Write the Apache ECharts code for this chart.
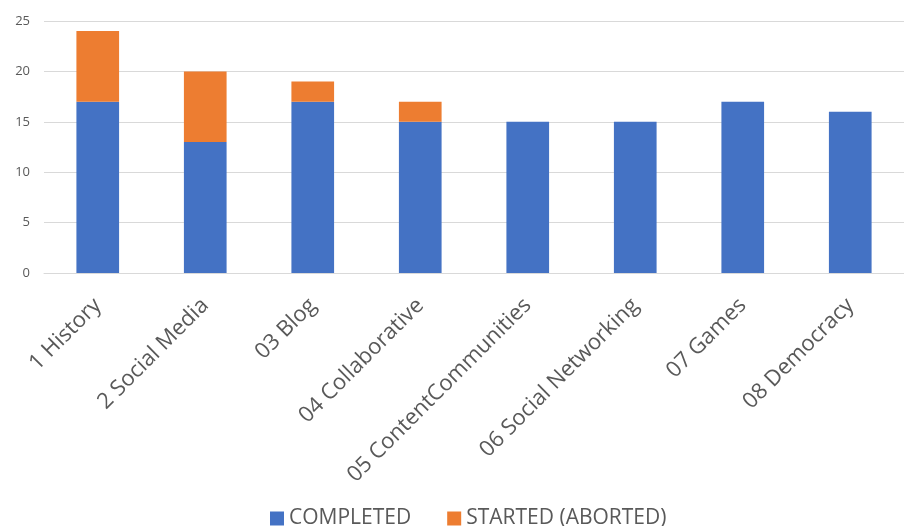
<!DOCTYPE html>
<html><head><meta charset="utf-8">
<script src="https://cdn.jsdelivr.net/npm/echarts@6/dist/echarts.min.js"></script>
<style>html,body{margin:0;padding:0;background:#fff}#c{width:904px;height:526px}</style>
</head><body><div id="c"></div>
<script>
const categories = ['1 History','2 Social Media','03 Blog','04 Collaborative','05 ContentCommunities','06 Social Networking','07 Games','08 Democracy'];
const completed = [17,13,17,15,15,15,17,16];
const started = [7,7,2,2,0,0,0,0];
const seriesNames = ['COMPLETED','STARTED (ABORTED)'];
const chart = echarts.init(document.getElementById('c'));
const font = '"Open Sans", "Liberation Sans", sans-serif';
chart.setOption({
  animation:false,
  textStyle:{fontFamily:font},
  grid:{left:44,right:-6,top:21,bottom:253,containLabel:false},
  legend:{top:503,left:265,itemWidth:14,itemHeight:14,itemGap:36,icon:'rect',
    textStyle:{color:'#595959',fontSize:21,fontFamily:font},data:seriesNames},
  xAxis:{type:'category',data:categories,
    axisLine:{lineStyle:{color:'#d9d9d9'}},axisTick:{show:false},
    axisLabel:{rotate:45,color:'#595959',fontSize:22,margin:29,interval:0,fontFamily:font}},
  yAxis:{type:'value',min:0,max:25,interval:5,
    axisLine:{show:false},axisTick:{show:false},
    axisLabel:{color:'#595959',fontSize:13,margin:14,fontFamily:font},
    splitLine:{lineStyle:{color:'#d9d9d9'}}},
  series:[
    {name:seriesNames[0],type:'bar',stack:'a',data:completed,barWidth:'39.7%',itemStyle:{color:'#4472c4'}},
    {name:seriesNames[1],type:'bar',stack:'a',data:started,barWidth:'39.7%',itemStyle:{color:'#ed7d31'}}
  ]
});
</script></body></html>
